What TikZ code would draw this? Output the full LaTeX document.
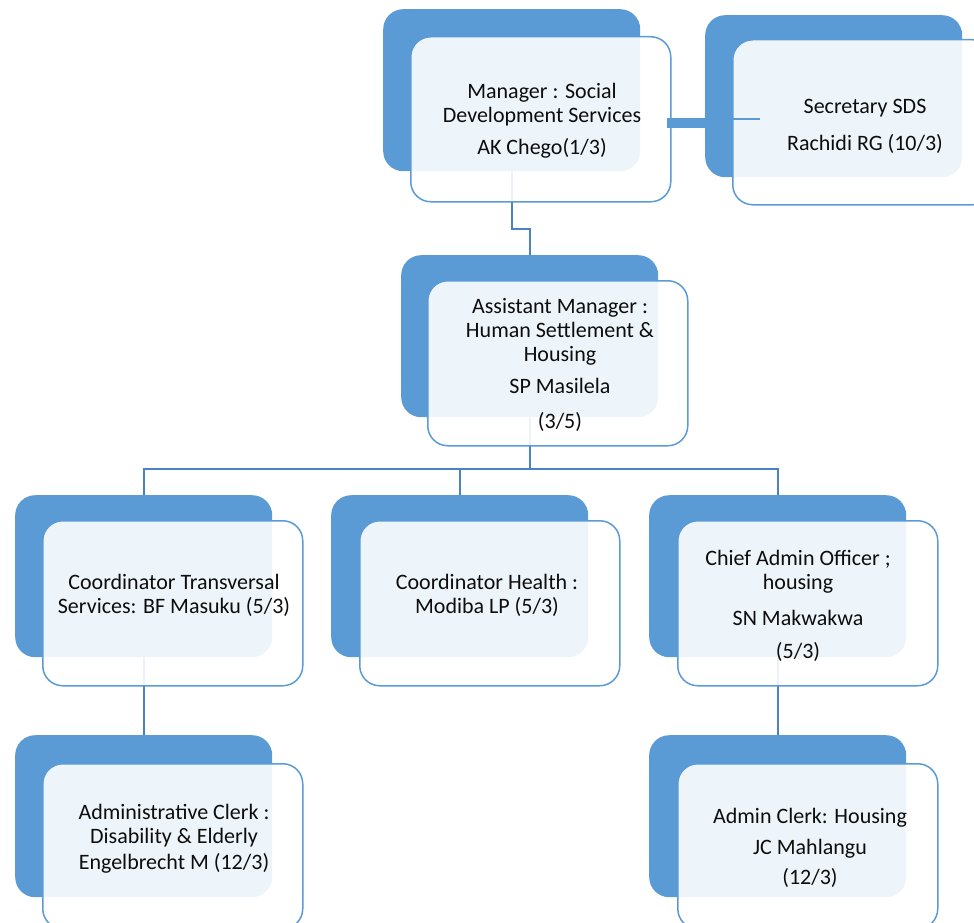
\documentclass[tikz,border=0pt]{standalone}
\usepackage{fontspec}
\setmainfont{Carlito}
\usetikzlibrary{calc}
\definecolor{boxblue}{HTML}{5B9BD5}
\definecolor{linkblue}{HTML}{4A84C0}
\definecolor{ink}{HTML}{0D0D0D}
\pgfdeclarelayer{links}
\pgfsetlayers{links,main}

\begin{document}
\begin{tikzpicture}[x=1pt,y=-1pt,
  backbox/.style={rectangle, rounded corners=20pt, fill=boxblue, draw=none,
    minimum width=257pt, minimum height=162pt, inner sep=0pt, anchor=north west},
  frontbox/.style={rectangle, rounded corners=20pt, draw=boxblue, line width=1.5pt,
    fill=white, fill opacity=0.9, minimum width=260pt, minimum height=165pt,
    inner sep=0pt, anchor=north west},
  boxtext/.style={align=center, font=\fontsize{22pt}{24pt}\selectfont,
    text=ink, inner sep=0pt},
  conn/.style={draw=linkblue, line width=2pt}]

\clip (0,0) rectangle (974,923);

% blue back panels
\path
  (383,9)   node[backbox] (mgrB)   {}
  (705,15)  node[backbox] (secB)   {}
  (401,255) node[backbox] (asmB)   {}
  (15,495)  node[backbox] (ctB)    {}
  (331,495) node[backbox] (hlB)    {}
  (649,495) node[backbox] (chB)    {}
  (15,735)  node[backbox] (adB)    {}
  (649,735) node[backbox] (ahB)    {};

% reporting lines, kept beneath the panels
\begin{pgfonlayer}{links}
\draw[conn] (mgrB.south) -- ++(0,58) -| (asmB.north);
\draw[conn] (asmB.south) -- ++(0,52) coordinate (bus);
\draw[conn] (ctB.north) |- (bus) -| (chB.north);
\draw[conn] (hlB.north) -- (hlB.north |- bus);
\draw[conn] (ctB.south) -- (adB.north);
\draw[conn] (chB.south) -- (ahB.north);
\end{pgfonlayer}

% translucent front cards
\path
  (410,36)  node[frontbox] (mgr) {}
  (732,39)  node[frontbox] (sec) {}
  (427,280) node[frontbox] (asm) {}
  (42,520)  node[frontbox] (ct)  {}
  (359,520) node[frontbox] (hl)  {}
  (677,520) node[frontbox] (ch)  {}
  (42,763)  node[frontbox] (ad)  {}
  (677,763) node[frontbox] (ah)  {};

% assistant link to the secretary
\fill[boxblue] ($(mgr.east)+(-5,-1.5)$) rectangle ($(secB.west |- mgr.east)+(0,8.5)$);
\coordinate (secTap) at ($(sec.west |- mgr.east)+(28,0)$);
\draw[boxblue, line width=1.5pt] (mgr.east) -- (secTap);

% card texts
\node[boxtext] (mgrT) at (542,121)
  {Manager : Social\\Development Services\\[8pt]AK Chego(1/3)};
\node[boxtext] (secT) at (865,126.5)
  {Secretary SDS\\[13pt]Rachidi RG (10/3)};
\node[boxtext] (asmT) at (560,365)
  {Assistant Manager :\\Human Settlement \&\\Housing\\[8pt]SP Masilela\\[11pt](3/5)};
\node[boxtext] (ctT) at (174,595)
  {Coordinator Transversal\\Services: BF Masuku (5/3)};
\node[boxtext] (hlT) at (487,595)
  {Coordinator Health :\\Modiba LP (5/3)};
\node[boxtext] (chT) at (798,605.5)
  {Chief Admin Officer ;\\housing\\[12pt]SN Makwakwa\\[9pt](5/3)};
\node[boxtext] (adT) at (174,839)
  {Administrative Clerk :\\Disability \& Elderly\\[2pt]Engelbrecht M (12/3)};
\node[boxtext] (ahT) at (810,847.5)
  {Admin Clerk: Housing\\[7pt]JC Mahlangu\\[6pt](12/3)};
\end{tikzpicture}
\end{document}
